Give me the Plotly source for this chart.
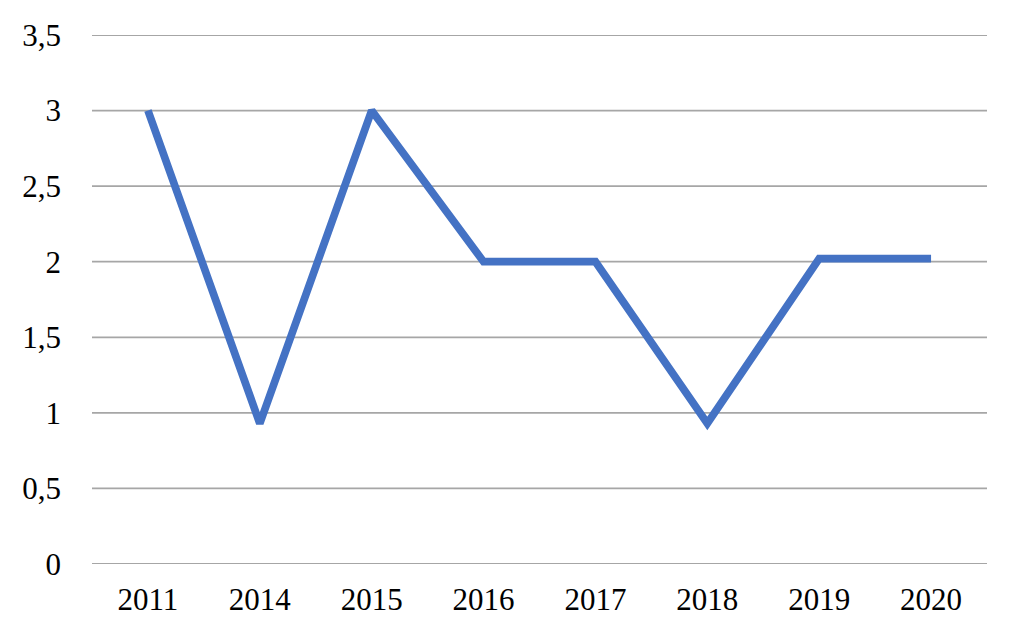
import plotly.graph_objects as go

years = ["2011", "2014", "2015", "2016", "2017", "2018", "2019", "2020"]
values = [3.0, 0.93, 3.0, 2.0, 2.0, 0.93, 2.02, 2.02]
y_tick_vals = [0, 0.5, 1, 1.5, 2, 2.5, 3, 3.5]
y_tick_text = ["0", "0,5", "1", "1,5", "2", "2,5", "3", "3,5"]

fig = go.Figure()
for v in y_tick_vals:
    fig.add_shape(type="line", xref="paper", yref="y", x0=0, x1=1, y0=v, y1=v,
                  line=dict(color="#A6A6A6", width=1.8), layer="below")

fig.add_trace(go.Scatter(
    x=years, y=values, mode="lines",
    line=dict(color="#4472C4", width=7.7),
    hoverinfo="skip",
))

font = dict(family="Liberation Serif, Times New Roman, serif", size=31, color="#000000")

fig.update_layout(
    width=1034, height=638,
    margin=dict(l=92, r=47, t=35, b=74),
    paper_bgcolor="white", plot_bgcolor="white",
    showlegend=False,
    font=font,
)
fig.update_xaxes(
    type="category", range=[-0.5, 7.5],
    showgrid=False, showline=False, zeroline=False,
    ticks="", tickfont=font, ticklabelstandoff=14,
)
fig.update_yaxes(
    range=[0, 3.5], tickvals=y_tick_vals, ticktext=y_tick_text,
    showgrid=False, zeroline=False, showline=False,
    ticks="", tickfont=font, ticklabelstandoff=30,
)

fig.write_html(
    "out.html",
    config={"displayModeBar": False},
    post_script="document.body.style.margin='0';document.body.style.padding='0';",
)
